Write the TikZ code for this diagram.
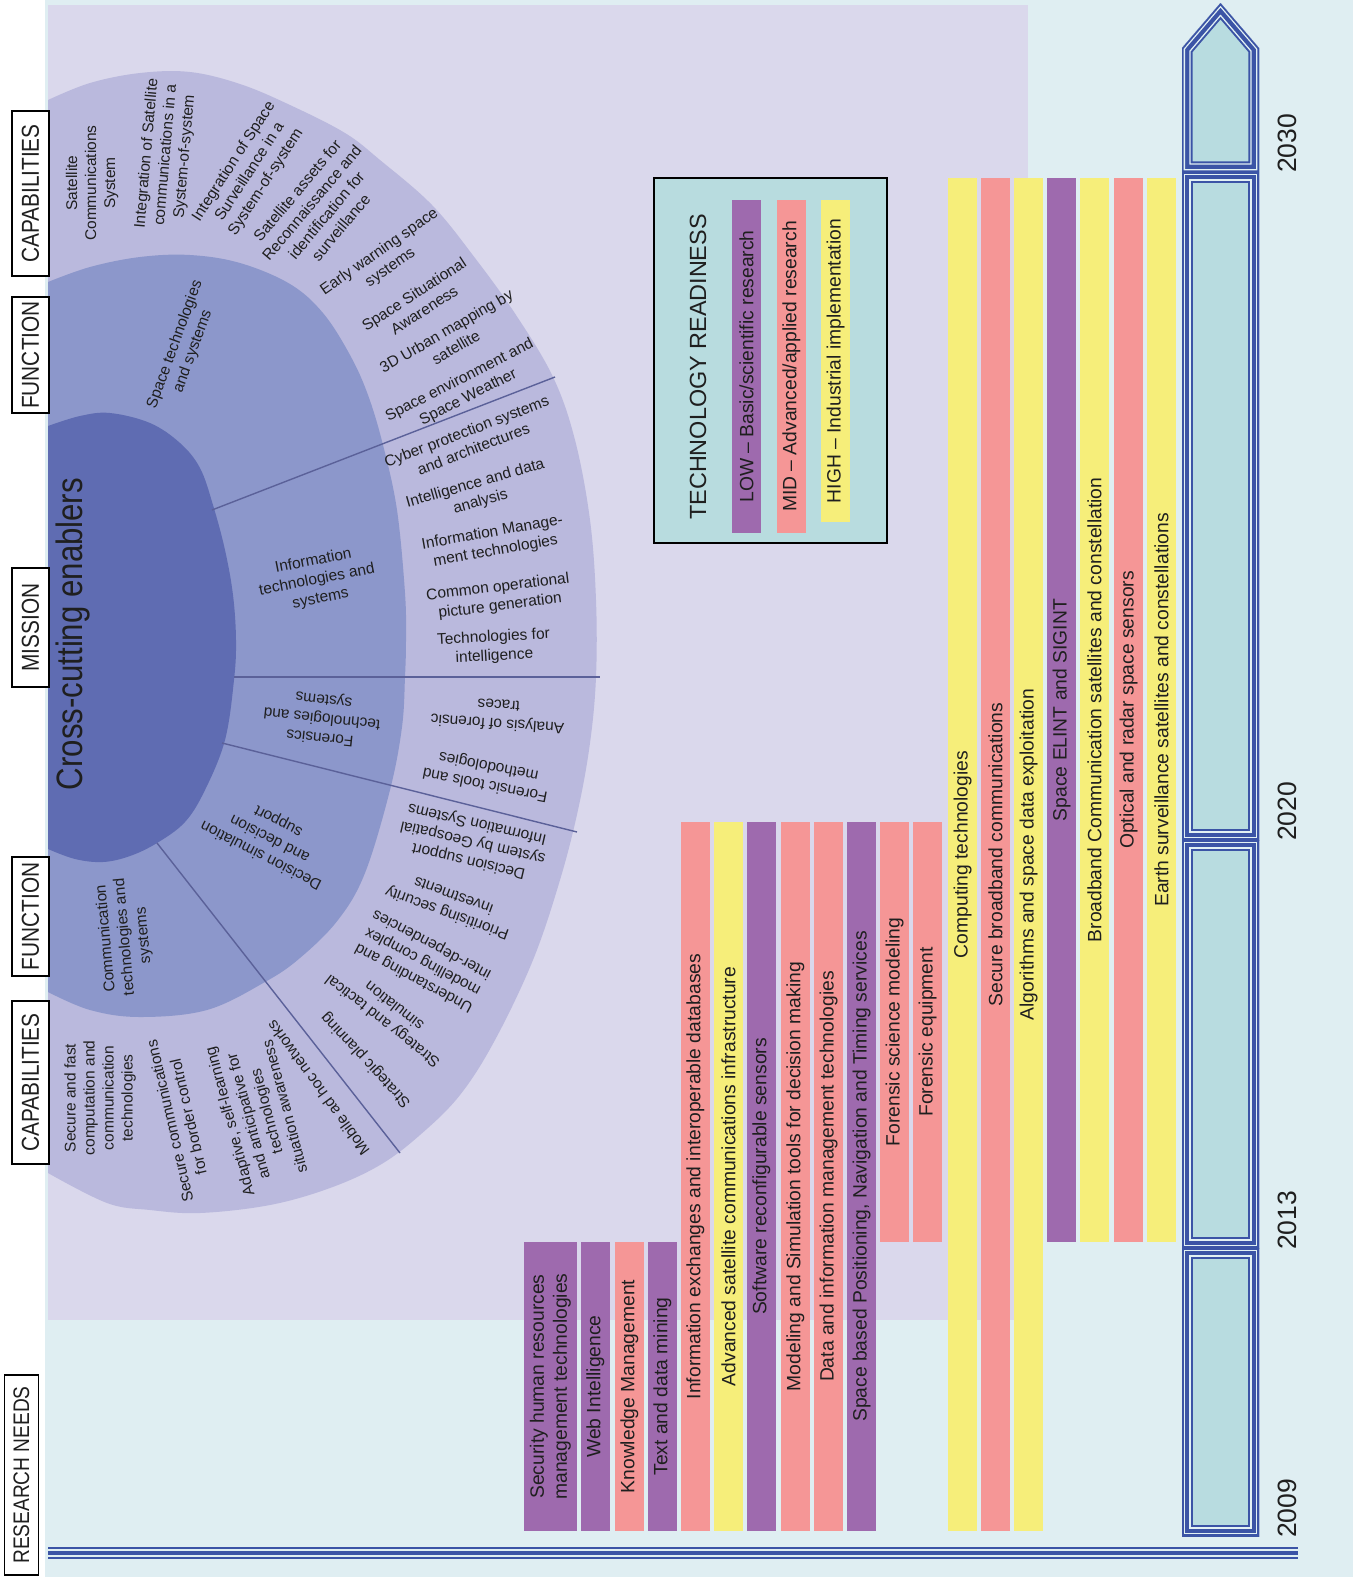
\documentclass[tikz,border=0pt]{standalone}
\usepackage{fontspec}
\setmainfont{Liberation Sans}
\newfontfamily\narrowsf[FakeStretch=0.85]{Liberation Sans}

\definecolor{bgblue}{HTML}{DFEEF2}
\definecolor{lavbg}{HTML}{DAD8EC}
\definecolor{ringout}{HTML}{BAB9DD}
\definecolor{ringmid}{HTML}{8C97CB}
\definecolor{ringin}{HTML}{5F6CB2}
\definecolor{divline}{HTML}{5B6199}
\definecolor{lowc}{HTML}{9E6AAE}
\definecolor{midc}{HTML}{F59696}
\definecolor{highc}{HTML}{F6EE7A}
\definecolor{legfill}{HTML}{B8DCDF}
\definecolor{tlblue}{HTML}{3B54A6}
\definecolor{tlpale}{HTML}{E2F1F4}
\definecolor{tlfill}{HTML}{B8DCE0}
\definecolor{txt}{HTML}{1F1F1F}

\tikzset{
  ringtxt/.style={font=\fontsize{15.5}{19}\selectfont, align=center, inner sep=0pt, text=txt},
  divider/.style={draw=divline, line width=1.4pt},
  barbox/.style={rotate=90, inner sep=0pt, minimum height=29pt, align=center, text=txt,
    font=\fontsize{19.3}{23}\selectfont},
  lowbar/.style={barbox, fill=lowc},
  midbar/.style={barbox, fill=midc},
  highbar/.style={barbox, fill=highc},
  sidelabel/.style={draw=black, line width=1.3pt, fill=white, rotate=90, inner sep=0pt,
    minimum height=37pt, text=txt, font=\narrowsf\fontsize{24.5}{26}\selectfont},
  yearlabel/.style={rotate=90, anchor=west, inner sep=0pt, text=txt, font=\fontsize{26.5}{28}\selectfont}
}

% one block of the time arrow, nested blue frames
\newcommand{\tlsegment}[1]{%
  \begin{scope}
    \clip #1;
    \fill[tlfill] #1;
    \draw[tlblue, line width=21.4pt, line join=miter] #1;
    \draw[tlpale, line width=17.4pt, line join=miter] #1;
    \draw[tlblue, line width=14.6pt, line join=miter] #1;
    \draw[tlpale, line width=6pt, line join=miter] #1;
    \draw[tlblue, line width=3.4pt, line join=miter] #1;
  \end{scope}}

\begin{document}
\begin{tikzpicture}[x=1pt,y=-1pt]
  \useasboundingbox (0,0) rectangle (1359,1577);
  \fill[white] (0,0) rectangle (1359,1577);
  \fill[bgblue] (45,0) rectangle (1353,1577);
  \fill[lavbg] (48,5) rectangle (1028,1320);

  % rings
  \begin{scope}
    \clip (48,5) rectangle (1028,1320);
    \fill[ringout] plot[smooth, tension=0.6] coordinates {(48,100) (90,83) (140,73) (190,72) (240,84)
      (290,105) (345,133) (380,160) (432,205) (475,258) (516,315) (553,377) (575,440) (590,520)
      (596,600) (596,677) (590,743) (578,810) (560,880) (533,960) (495,1040) (460,1095) (420,1135)
      (380,1165) (330,1188) (270,1205) (200,1213) (150,1210) (107,1203) (48,1173)} -- cycle;
    \fill[ringmid] plot[smooth, tension=0.6] coordinates {(48,282) (90,267) (140,257) (190,255)
      (240,263) (290,284) (323,313) (350,355) (368,395) (383,445) (397,510) (405,593) (406,640)
      (405,677) (402,727) (390,790) (365,873) (338,920) (300,958) (265,982) (207,1010) (140,1017)
      (90,1010) (48,992)} -- cycle;
    \fill[ringin] plot[smooth, tension=0.6] coordinates {(48,426) (80,416) (110,413) (150,423)
      (180,443) (200,468) (213,505) (225,550) (233,595) (236,640) (234,680) (225,740) (205,790)
      (185,822) (157,843) (130,856) (103,862) (75,859) (48,849)} -- cycle;
  \end{scope}

  \coordinate (d1a) at (212,510);
  \coordinate (d1b) at (555,377);
  \coordinate (d2a) at (234,677);
  \coordinate (d2b) at (600,677);
  \coordinate (d3a) at (222,743);
  \coordinate (d3b) at (577,832);
  \coordinate (d4a) at (157,843);
  \coordinate (d4b) at (400,1153);
  \draw[divider] (d1a) -- (d1b);
  \draw[divider] (d2a) -- (d2b);
  \draw[divider] (d3a) -- (d3b);
  \draw[divider] (d4a) -- (d4b);

  \node[font=\narrowsf\fontsize{36.7}{40}\selectfont, rotate=90, inner sep=0pt, text=txt] (enablers) at (73,634) {Cross-cutting enablers};

  % function ring
  \node[ringtxt, rotate=70] (spacetech) at (184,348) {Space technologies\\and systems};
  \node[ringtxt, rotate=11] (infotech) at (317,580) {Information\\technologies and\\systems};
  \node[ringtxt, rotate=174] (forensics) at (322,718) {Forensics\\technologies and\\systems};
  \node[ringtxt, rotate=153] (decsim) at (270,838) {Decision simulation\\and decision\\support};
  \node[ringtxt, rotate=95] (commtech) at (125,937) {Communication\\technologies and\\systems};

  % capability ring
  \node[ringtxt, rotate=90] (satcomsys) at (92,183) {Satellite\\Communications\\System};
  \node[ringtxt, rotate=85] (satcomint) at (166,155) {Integration of Satellite\\communications in a\\System-of-system};
  \node[ringtxt, rotate=57] (spsurvint) at (250,172) {Integration of Space\\Surveillance in a\\System-of-system};
  \node[ringtxt, rotate=50] (satrecon) at (319,209) {Satellite assets for\\Reconnaissance and\\identification for\\surveillance};
  \node[ringtxt, rotate=35] (earlywarn) at (385,260) {Early warning space\\systems};
  \node[ringtxt, rotate=33] (spsitaw) at (419,302) {Space Situational\\Awareness};
  \node[ringtxt, rotate=30] (urbanmap) at (451,339) {3D Urban mapping by\\satellite};
  \node[ringtxt, rotate=27] (spweather) at (464,389) {Space environment and\\Space Weather};
  \node[ringtxt, rotate=21] (cyberprot) at (470,440) {Cyber protection systems\\and architectures};
  \node[ringtxt, rotate=16] (intdata) at (478,493) {Intelligence and data\\analysis};
  \node[ringtxt, rotate=10] (infomgmt) at (494,542) {Information Manage-\\ment technologies};
  \node[ringtxt, rotate=7] (copgen) at (499,597) {Common operational\\picture generation};
  \node[ringtxt, rotate=3] (techintel) at (494,647) {Technologies for\\intelligence};
  \node[ringtxt, rotate=176] (fortraces) at (498,715) {Analysis of forensic\\traces};
  \node[ringtxt, rotate=169] (fortools) at (487,775) {Forensic tools and\\methodologies};
  \node[ringtxt, rotate=167] (geodss) at (473,842) {Decision support\\system by Geospatial\\Information Systems};
  \node[ringtxt, rotate=160] (prisec) at (450,905) {Prioritising security\\investments};
  \node[ringtxt, rotate=152] (interdep) at (423,961) {Understanding and\\modelling complex\\inter-dependencies};
  \node[ringtxt, rotate=142] (stratsim) at (388,1014) {Strategy and tactical\\simulation};
  \node[ringtxt, rotate=133] (stratplan) at (366,1060) {Strategic planning};
  \node[ringtxt, rotate=126] (manet) at (318,1088) {Mobile ad hoc networks};
  \node[ringtxt, rotate=105] (adaptive) at (257,1114) {Adaptive, self-learning\\and anticipative for\\technologies\\situation awareness};
  \node[ringtxt, rotate=103] (bordercom) at (179,1119) {Secure communications\\for border control};
  \node[ringtxt, rotate=90] (securefast) at (100,1098) {Secure and fast\\computation and\\communication\\technologies};

  % side labels
  \node[sidelabel, minimum width=165pt] (capA) at (30.5,193.5) {CAPABILITIES};
  \node[sidelabel, minimum width=116pt] (funcA) at (30.5,355) {FUNCTION};
  \node[sidelabel, minimum width=119pt] (mission) at (30.5,627.5) {MISSION};
  \node[sidelabel, minimum width=119pt] (funcB) at (30.5,916.5) {FUNCTION};
  \node[sidelabel, minimum width=163pt] (capB) at (30.5,1082.5) {CAPABILITIES};
  \node[sidelabel, minimum width=200pt, minimum height=34pt, font=\narrowsf\fontsize{22.5}{24}\selectfont] (resneeds) at (21.5,1475) {RESEARCH NEEDS};

  % legend
  \node[draw=black, line width=1.3pt, fill=legfill, minimum width=233pt, minimum height=365pt, inner sep=0pt] (legend) at (770.5,360.5) {};
  \node[rotate=90, inner sep=0pt, text=txt, font=\fontsize{23.4}{26}\selectfont] (legtitle) at (698,367) {TECHNOLOGY READINESS};
  \node[lowbar, minimum width=333pt] (leglow) at (746.5,366.5) {LOW – Basic/scientific research};
  \node[midbar, minimum width=333pt] (legmid) at (791.5,366.5) {MID – Advanced/applied research};
  \node[highbar, minimum width=322pt] (leghigh) at (835.5,361) {HIGH – Industrial implementation};

  % research needs, 2009-2013
  \node[lowbar, minimum width=289pt, minimum height=53pt] (sechr) at (550.5,1386.5) {Security human resources\\management technologies};
  \node[lowbar, minimum width=289pt] (webint) at (595.5,1386.5) {Web Intelligence};
  \node[midbar, minimum width=289pt] (knowmgmt) at (629.5,1386.5) {Knowledge Management};
  \node[lowbar, minimum width=289pt] (textmine) at (662.5,1386.5) {Text and data mining};
  % 2009-2020
  \node[midbar, minimum width=709pt] (infoexch) at (695.5,1176.5) {Information exchanges and interoperable databases};
  \node[highbar, minimum width=709pt] (advsat) at (728.5,1176.5) {Advanced satellite communications infrastructure};
  \node[lowbar, minimum width=709pt] (swsens) at (761.5,1176.5) {Software reconfigurable sensors};
  \node[midbar, minimum width=709pt] (modsim) at (795.5,1176.5) {Modeling and Simulation tools for decision making};
  \node[midbar, minimum width=709pt] (datamgmt) at (828.5,1176.5) {Data and information management technologies};
  \node[lowbar, minimum width=709pt] (spacepnt) at (861.5,1176.5) {Space based Positioning, Navigation and Timing services};
  % 2013-2020
  \node[midbar, minimum width=420pt] (formodel) at (894.5,1032) {Forensic science modeling};
  \node[midbar, minimum width=420pt] (forequip) at (927.5,1032) {Forensic equipment};
  % 2009-2030
  \node[highbar, minimum width=1353pt] (computing) at (962.5,854.5) {Computing technologies};
  \node[midbar, minimum width=1353pt] (secbroad) at (995.5,854.5) {Secure broadband communications};
  \node[highbar, minimum width=1353pt] (algospace) at (1028.5,854.5) {Algorithms and space data exploitation};
  % 2013-2030
  \node[lowbar, minimum width=1064pt] (elint) at (1061.5,710) {Space ELINT and SIGINT};
  \node[highbar, minimum width=1064pt] (bbsat) at (1094.5,710) {Broadband Communication satellites and constellation};
  \node[midbar, minimum width=1064pt] (optradar) at (1128.5,710) {Optical and radar space sensors};
  \node[highbar, minimum width=1064pt] (earthsurv) at (1161.5,710) {Earth surveillance satellites and constellations};

  % time arrow
  \tlsegment{(1182,172) -- (1182,48) -- (1220.5,3) -- (1259,48) -- (1259,172) -- cycle}
  \tlsegment{(1182,172) rectangle (1259,840)}
  \tlsegment{(1182,840) rectangle (1259,1248)}
  \tlsegment{(1182,1248) rectangle (1259,1536)}

  \node[yearlabel] (y2009) at (1287,1538) {2009};
  \node[yearlabel] (y2013) at (1287,1250) {2013};
  \node[yearlabel] (y2020) at (1287,841) {2020};
  \node[yearlabel] (y2030) at (1287,173) {2030};

  \coordinate (axisL) at (48,1552.7);
  \coordinate (axisR) at (1298,1552.7);
  \draw[tlblue, line width=4.3pt] (axisL) -- (axisR);
  \draw[tlblue, line width=1.3pt] ([yshift=4.8pt]axisL) -- ([yshift=4.8pt]axisR);
  \draw[tlblue, line width=1.5pt] ([yshift=-5.3pt]axisL) -- ([yshift=-5.3pt]axisR);
\end{tikzpicture}
\end{document}
